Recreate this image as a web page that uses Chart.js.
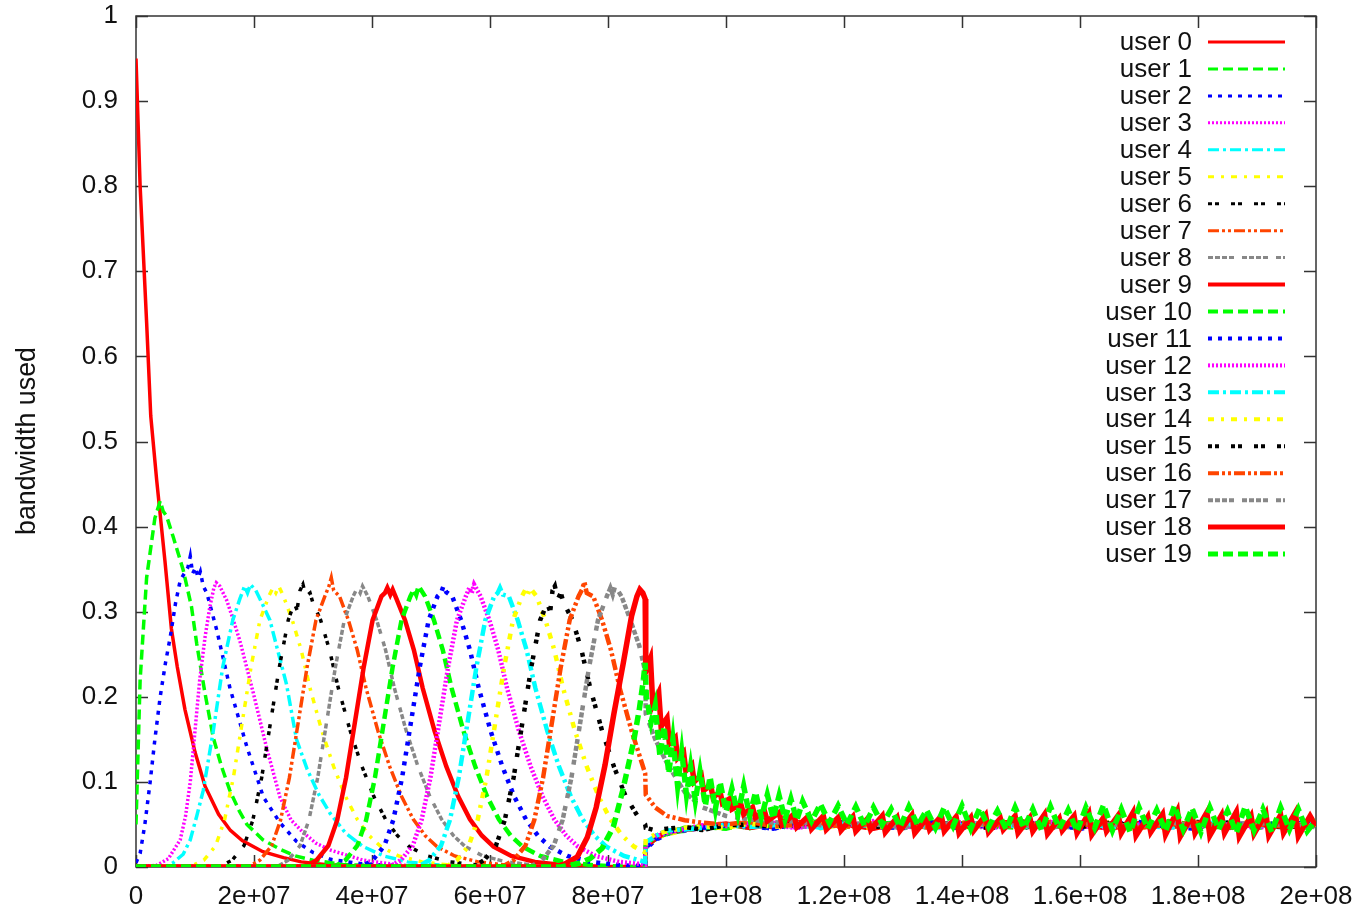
<!DOCTYPE html>
<html>
<head>
<meta charset="utf-8">
<script src="https://cdn.jsdelivr.net/npm/chart.js@4.4.1/dist/chart.umd.min.js"></script>
<style>
  body { margin: 0; background: #fff; }
  #wrap { width: 1366px; height: 906px; }
</style>
</head>
<body>
<div id="wrap"><canvas id="bw" width="1366" height="906"></canvas></div>
<script>
// x values are in millions (1e6), y is fraction of bandwidth
const xTicks = [0, 20, 40, 60, 80, 100, 120, 140, 160, 180, 200];
const yTicks = [0, 0.1, 0.2, 0.3, 0.4, 0.5, 0.6, 0.7, 0.8, 0.9, 1];
const userNames = ['user 0', 'user 1', 'user 2', 'user 3', 'user 4', 'user 5', 'user 6', 'user 7', 'user 8', 'user 9',
  'user 10', 'user 11', 'user 12', 'user 13', 'user 14', 'user 15', 'user 16', 'user 17', 'user 18', 'user 19'];

// first phase: each user's curve up to the switch at ~8.6e7
const user0 = [[0,0.95],[0.7,0.8],[1.8,0.64],[2.5,0.53],[3.5,0.455],[4.9,0.36],[6,0.28],[7,0.235],[8.3,0.185],[10,0.135],[11.7,0.095],[14,0.062],[16,0.043],[18,0.031],[21.5,0.018],[25,0.011],[28,0.006],[32,0.003],[38,0.001],[45,0],[86.3,0]];
const user1 = [[0,0.05],[0.7,0.22],[1.8,0.34],[3.2,0.41],[4.1,0.43],[4.6,0.418],[5.2,0.412],[6.3,0.388],[8,0.349],[9.4,0.306],[10.3,0.262],[11.7,0.204],[13.1,0.152],[14.5,0.118],[15.9,0.09],[17.5,0.066],[18.8,0.05],[21.5,0.032],[24.4,0.021],[27,0.013],[30,0.008],[35,0.003],[42,0.001],[50,0],[86.3,0]];
const user2 = [[0,0.005],[0.7,0.016],[1.5,0.05],[2.4,0.1],[3.2,0.15],[4.1,0.2],[5,0.24],[5.8,0.27],[6.7,0.31],[7.5,0.337],[8.2,0.345],[8.8,0.352],[9.2,0.365],[9.6,0.345],[10.1,0.352],[10.5,0.34],[10.9,0.347],[11.4,0.33],[12,0.322],[13.7,0.278],[15.9,0.211],[18.8,0.141],[21.6,0.082],[24.4,0.052],[27.2,0.03],[30,0.017],[33,0.009],[38,0.004],[45,0.001],[55,0],[86.3,0]];
const user3 = [[0,0],[3.5,0.002],[5.5,0.01],[7.5,0.032],[8.4,0.06],[9.2,0.1],[10,0.16],[10.8,0.22],[11.7,0.27],[12.5,0.305],[13.2,0.328],[13.6,0.334],[14.2,0.33],[15.4,0.313],[16.5,0.29],[17.6,0.266],[19.9,0.204],[22.1,0.141],[24.4,0.082],[26.3,0.055],[28.4,0.04],[30.5,0.028],[32.9,0.02],[38.5,0.008],[45,0.002],[55,0],[86.3,0]];
const user4 = [[0,0],[5,0],[6.3,0.005],[8,0.015],[9.2,0.032],[10.3,0.06],[11.4,0.09],[13.1,0.16],[14.7,0.235],[16.4,0.29],[17.6,0.315],[18.4,0.33],[18.9,0.322],[19.4,0.332],[20.3,0.325],[21.5,0.308],[22.7,0.29],[24,0.255],[25.5,0.215],[27.2,0.15],[29,0.115],[31,0.085],[32.9,0.063],[35.5,0.04],[38.5,0.024],[42,0.013],[46,0.006],[52,0.002],[60,0],[86.3,0]];
const user5 = [[0,0],[9,0],[11.5,0.008],[13.5,0.025],[15,0.055],[16.5,0.105],[18,0.17],[19.5,0.235],[21,0.29],[22.5,0.318],[23.2,0.328],[23.7,0.322],[24.2,0.33],[25,0.318],[26.5,0.29],[28,0.255],[29.5,0.21],[31.5,0.16],[33.5,0.118],[35.5,0.083],[37.5,0.056],[39.5,0.037],[41.5,0.024],[44.5,0.013],[48.5,0.006],[53.5,0.002],[60,0],[86.3,0]];
const user6 = [[0,0],[14,0],[16.3,0.008],[18.3,0.025],[19.8,0.055],[21.3,0.105],[22.8,0.17],[24.3,0.235],[25.8,0.29],[26.8,0.31],[27.3,0.302],[27.8,0.325],[28.3,0.332],[28.8,0.318],[29.5,0.322],[30,0.31],[31.3,0.29],[32.8,0.255],[34.3,0.21],[36.3,0.16],[38.3,0.118],[40.3,0.083],[42.3,0.056],[44.3,0.037],[46.3,0.024],[49.3,0.013],[53.3,0.006],[58.3,0.002],[65,0],[86.3,0]];
const user7 = [[0,0],[19,0],[21,0.008],[23,0.025],[24.5,0.055],[26,0.105],[27.5,0.17],[29,0.235],[30.5,0.29],[32,0.318],[32.7,0.33],[33.1,0.34],[33.5,0.325],[34.5,0.318],[36,0.29],[37.5,0.255],[39,0.21],[41,0.16],[43,0.118],[45,0.083],[47,0.056],[49,0.037],[51,0.024],[54,0.013],[58,0.006],[63,0.002],[70,0],[86.3,0]];
const user8 = [[0,0],[23.8,0],[25.8,0.008],[27.8,0.025],[29.3,0.055],[30.8,0.105],[32.3,0.17],[33.8,0.235],[35.3,0.29],[36.8,0.318],[37.5,0.328],[38,0.322],[38.4,0.33],[39.3,0.318],[40.8,0.29],[42.3,0.255],[43.8,0.21],[45.8,0.16],[47.8,0.118],[49.8,0.083],[51.8,0.056],[53.8,0.037],[55.8,0.024],[58.8,0.013],[62.8,0.006],[67.8,0.002],[75,0],[86.3,0]];
const user9 = [[0,0],[28.6,0],[30.6,0.008],[32.6,0.025],[34.1,0.055],[35.6,0.105],[37.1,0.17],[38.6,0.235],[40.1,0.29],[41.6,0.318],[42.2,0.322],[42.6,0.328],[43.1,0.32],[43.5,0.326],[44.1,0.316],[45.6,0.29],[47.1,0.255],[48.6,0.21],[50.6,0.16],[52.6,0.118],[54.6,0.083],[56.6,0.056],[58.6,0.037],[60.6,0.024],[63.6,0.013],[67.6,0.006],[72.6,0.002],[80,0],[86.3,0]];
const user10 = [[0,0],[33.5,0],[35.5,0.008],[37.5,0.025],[39,0.055],[40.5,0.105],[42,0.17],[43.5,0.235],[45,0.29],[46.5,0.318],[47.1,0.326],[47.5,0.32],[47.9,0.33],[49,0.318],[50.5,0.29],[52,0.255],[53.5,0.21],[55.5,0.16],[57.5,0.118],[59.5,0.083],[61.5,0.056],[63.5,0.037],[65.5,0.024],[68.5,0.013],[72.5,0.006],[77.5,0.002],[84,0],[86.3,0]];
const user11 = [[0,0],[38.1,0],[40.1,0.008],[42.1,0.025],[43.6,0.055],[45.1,0.105],[46.6,0.17],[48.1,0.235],[49.6,0.29],[51.1,0.318],[51.7,0.322],[52.1,0.33],[52.6,0.323],[53.6,0.318],[55.1,0.29],[56.6,0.255],[58.1,0.21],[60.1,0.16],[62.1,0.118],[64.1,0.083],[66.1,0.056],[68.1,0.037],[70.1,0.024],[73.1,0.013],[77.1,0.006],[82.1,0.002],[86.3,0.001]];
const user12 = [[0,0],[42.9,0],[44.9,0.008],[46.9,0.025],[48.4,0.055],[49.9,0.105],[51.4,0.17],[52.9,0.235],[54.4,0.29],[55.9,0.318],[56.5,0.328],[56.9,0.322],[57.3,0.332],[58.4,0.318],[59.9,0.29],[61.4,0.255],[62.9,0.21],[64.9,0.16],[66.9,0.118],[68.9,0.083],[70.9,0.056],[72.9,0.037],[74.9,0.024],[77.9,0.013],[81.9,0.006],[86.3,0.003]];
const user13 = [[0,0],[47.7,0],[49.7,0.008],[51.7,0.025],[53.2,0.055],[54.7,0.105],[56.2,0.17],[57.7,0.235],[59.2,0.29],[60.7,0.318],[61.3,0.322],[61.7,0.328],[62.2,0.32],[63.2,0.318],[64.7,0.29],[66.2,0.255],[67.7,0.21],[69.7,0.16],[71.7,0.118],[73.7,0.083],[75.7,0.056],[77.7,0.037],[79.7,0.024],[82.7,0.013],[86.3,0.006]];
const user14 = [[0,0],[52.4,0],[54.4,0.008],[56.4,0.025],[57.9,0.055],[59.4,0.105],[60.9,0.17],[62.4,0.235],[63.9,0.29],[65.4,0.318],[66,0.326],[66.4,0.32],[66.8,0.328],[67.9,0.318],[69.4,0.29],[70.9,0.255],[72.4,0.21],[74.4,0.16],[76.4,0.118],[78.4,0.083],[80.4,0.056],[82.4,0.037],[84.4,0.024],[86.3,0.017]];
const user15 = [[0,0],[57,0],[59,0.008],[61,0.025],[62.5,0.055],[64,0.105],[65.5,0.17],[67,0.235],[68.5,0.29],[69.7,0.31],[70.2,0.3],[70.6,0.325],[71,0.33],[71.5,0.315],[72,0.322],[72.5,0.31],[74,0.29],[75.5,0.255],[77,0.21],[79,0.16],[81,0.118],[83,0.083],[85,0.06],[86.3,0.05]];
const user16 = [[0,0],[62,0],[64,0.008],[66,0.025],[67.5,0.055],[69,0.105],[70.5,0.17],[72,0.235],[73.5,0.29],[75,0.318],[75.6,0.326],[76,0.335],[76.4,0.322],[77.5,0.318],[79,0.29],[80.5,0.255],[82,0.21],[84,0.16],[86.3,0.11]];
const user17 = [[0,0],[66.8,0],[68.8,0.008],[70.8,0.025],[72.3,0.055],[73.8,0.105],[75.3,0.17],[76.8,0.235],[78.3,0.29],[79.8,0.318],[80.4,0.328],[80.8,0.32],[81.2,0.33],[82.3,0.318],[83.8,0.29],[85.3,0.26],[86.3,0.23]];
const user18 = [[0,0],[71,0],[72.8,0.004],[74.8,0.012],[76.5,0.035],[78,0.07],[79.5,0.12],[81,0.18],[82.6,0.24],[84,0.295],[84.9,0.318],[85.4,0.326],[85.9,0.322],[86.3,0.315]];
const user19 = [[0,0],[72,0],[75,0.004],[77,0.01],[79,0.022],[80.9,0.047],[82.5,0.09],[84.3,0.146],[85.3,0.185],[86,0.22],[86.3,0.24]];

// second phase: shared sample times for users 0-17 and their values
const tailX = [86.4, 88, 90, 93, 96, 100, 104, 108, 112, 116, 120, 125, 130, 135, 140, 145, 150, 155, 160, 165, 170, 175, 180, 185, 190, 195, 200];
const tail0 = [0.022,0.033,0.039,0.043,0.045,0.047,0.052,0.046,0.051,0.048,0.053,0.047,0.05,0.046,0.052,0.049,0.048,0.053,0.046,0.05,0.052,0.047,0.051,0.048,0.05,0.046,0.05];
const tail1 = [0.024,0.032,0.04,0.042,0.047,0.05,0.045,0.052,0.047,0.053,0.046,0.051,0.048,0.054,0.047,0.05,0.052,0.045,0.051,0.048,0.046,0.053,0.047,0.052,0.045,0.051,0.049];
const tail2 = [0.02,0.031,0.038,0.044,0.046,0.048,0.05,0.044,0.053,0.047,0.05,0.045,0.052,0.048,0.045,0.053,0.047,0.05,0.044,0.052,0.048,0.051,0.046,0.05,0.053,0.047,0.05];
const tail3 = [0.023,0.034,0.041,0.043,0.048,0.046,0.051,0.049,0.045,0.052,0.048,0.053,0.046,0.05,0.049,0.045,0.052,0.048,0.053,0.046,0.05,0.048,0.052,0.045,0.049,0.053,0.048];
const tail4 = [0.021,0.035,0.04,0.045,0.044,0.049,0.047,0.053,0.048,0.046,0.051,0.049,0.054,0.047,0.05,0.052,0.046,0.049,0.051,0.047,0.053,0.046,0.05,0.052,0.047,0.05,0.051];
const tail5 = [0.025,0.033,0.038,0.042,0.047,0.045,0.05,0.048,0.052,0.045,0.049,0.051,0.047,0.053,0.046,0.048,0.051,0.047,0.05,0.053,0.045,0.049,0.052,0.047,0.051,0.048,0.05];
const tail6 = [0.03,0.036,0.04,0.044,0.043,0.048,0.046,0.051,0.047,0.05,0.053,0.046,0.049,0.047,0.052,0.05,0.045,0.051,0.049,0.046,0.052,0.05,0.047,0.053,0.048,0.046,0.05];
const tail7 = [0.026,0.034,0.042,0.046,0.045,0.05,0.053,0.047,0.049,0.051,0.046,0.052,0.05,0.045,0.048,0.053,0.049,0.046,0.052,0.048,0.05,0.045,0.053,0.049,0.047,0.052,0.049];
const tail8 = [0.028,0.037,0.043,0.045,0.049,0.047,0.05,0.054,0.046,0.049,0.052,0.048,0.045,0.051,0.053,0.047,0.05,0.048,0.045,0.052,0.049,0.051,0.046,0.05,0.053,0.048,0.05];
const tail9 = [0.024,0.033,0.041,0.044,0.048,0.051,0.046,0.05,0.053,0.047,0.05,0.045,0.052,0.049,0.047,0.051,0.054,0.047,0.05,0.045,0.051,0.048,0.052,0.046,0.05,0.049,0.051];
const tail10 = [0.027,0.035,0.039,0.046,0.047,0.045,0.052,0.048,0.05,0.054,0.047,0.05,0.053,0.046,0.051,0.048,0.046,0.052,0.048,0.051,0.047,0.054,0.049,0.046,0.052,0.05,0.048];
const tail11 = [0.023,0.032,0.042,0.043,0.046,0.049,0.048,0.045,0.051,0.049,0.053,0.047,0.046,0.052,0.05,0.047,0.053,0.049,0.046,0.05,0.053,0.047,0.045,0.051,0.049,0.053,0.05];
const tail12 = [0.026,0.036,0.04,0.045,0.049,0.048,0.05,0.052,0.046,0.05,0.048,0.054,0.047,0.049,0.052,0.046,0.05,0.053,0.048,0.046,0.05,0.052,0.048,0.05,0.046,0.051,0.049];
const tail13 = [0.029,0.036,0.043,0.044,0.046,0.05,0.047,0.049,0.052,0.046,0.051,0.048,0.052,0.045,0.049,0.053,0.047,0.05,0.052,0.047,0.049,0.046,0.051,0.053,0.048,0.05,0.051];
const tail14 = [0.033,0.038,0.042,0.046,0.048,0.046,0.051,0.047,0.05,0.053,0.048,0.046,0.051,0.05,0.045,0.052,0.049,0.047,0.053,0.049,0.046,0.051,0.048,0.05,0.054,0.047,0.05];
const tail15 = [0.046,0.043,0.045,0.047,0.044,0.049,0.05,0.047,0.053,0.048,0.051,0.047,0.05,0.053,0.048,0.046,0.051,0.05,0.047,0.052,0.048,0.05,0.053,0.046,0.049,0.052,0.048];
const tail16 = [0.085,0.07,0.06,0.055,0.052,0.05,0.053,0.048,0.05,0.052,0.047,0.051,0.049,0.046,0.052,0.05,0.047,0.053,0.049,0.051,0.046,0.05,0.052,0.048,0.05,0.047,0.052];
const tail17 = [0.18,0.15,0.122,0.088,0.07,0.06,0.056,0.052,0.054,0.049,0.052,0.05,0.047,0.053,0.048,0.051,0.049,0.046,0.052,0.05,0.048,0.053,0.047,0.05,0.052,0.049,0.047];

// users 18 and 19 are drawn last and show their sawtooth, so they get finer samples
const user18Tail = [[86.4,0.23],[87.2,0.245],[87.6,0.19],[88.6,0.205],[89,0.165],[90,0.175],[90.4,0.145],[91.4,0.152],[91.8,0.128],[92.8,0.135],[93.2,0.113],[94.2,0.12],[94.6,0.1],[95.8,0.108],[96.2,0.09],[97.4,0.096],[97.8,0.082],[99,0.088],[99.4,0.075],[100.6,0.08],[101,0.068],[102.5,0.074],[103,0.062],[104.5,0.07],[105,0.058],[106.5,0.066],[107,0.054],[109,0.064],[109.5,0.05],[111.5,0.062],[112,0.047],[114,0.06],[114.5,0.045],[116.5,0.06],[117,0.044],[119,0.058],[119.5,0.043],[121.5,0.059],[122,0.042],[124,0.057],[124.5,0.044],[126.5,0.06],[127,0.041],[129,0.058],[129.5,0.043],[131.5,0.061],[132,0.04],[134,0.057],[134.5,0.044],[136.5,0.06],[137,0.042],[139,0.059],[139.5,0.04],[141.5,0.058],[142,0.043],[144,0.061],[144.5,0.041],[146.5,0.057],[147,0.044],[149,0.06],[149.5,0.04],[151.5,0.058],[152,0.042],[154,0.062],[154.5,0.039],[156.5,0.057],[157,0.043],[159,0.06],[159.5,0.04],[161.5,0.063],[162,0.038],[164,0.058],[164.5,0.042],[166.5,0.061],[167,0.04],[169,0.064],[169.5,0.037],[171.5,0.059],[172,0.041],[174,0.062],[174.5,0.038],[176.5,0.066],[177,0.036],[179,0.06],[179.5,0.04],[181.5,0.064],[182,0.037],[184,0.061],[184.5,0.04],[186.5,0.065],[187,0.036],[189,0.06],[189.5,0.039],[191.5,0.063],[192,0.037],[194,0.061],[194.5,0.04],[196.5,0.064],[197,0.036],[199,0.06],[200,0.048]];
const user19Tail = [[86.5,0.2],[87.3,0.17],[88,0.19],[88.8,0.13],[89.5,0.165],[90.3,0.11],[91,0.15],[91.8,0.095],[92.5,0.135],[93.3,0.085],[94,0.118],[94.8,0.078],[95.6,0.112],[96.5,0.072],[97.3,0.106],[98.2,0.068],[99,0.1],[100,0.065],[101,0.092],[102,0.062],[103,0.095],[104,0.06],[105,0.088],[106,0.058],[107,0.085],[108,0.057],[109,0.084],[110,0.056],[111,0.08],[112,0.055],[113,0.077],[114.5,0.054],[116,0.074],[117.5,0.052],[119,0.072],[120.5,0.05],[122,0.071],[123.5,0.048],[125,0.07],[126.5,0.05],[128,0.068],[129.5,0.047],[131,0.071],[132.5,0.049],[134,0.067],[135.5,0.046],[137,0.07],[138.5,0.048],[140,0.072],[141.5,0.045],[143,0.069],[144.5,0.047],[146,0.066],[147.5,0.044],[149,0.07],[150.5,0.046],[152,0.068],[153.5,0.043],[155,0.071],[156.5,0.045],[158,0.067],[159.5,0.042],[161,0.07],[162.5,0.046],[164,0.073],[165.5,0.043],[167,0.068],[168.5,0.041],[170,0.07],[171.5,0.045],[173,0.067],[174.5,0.042],[176,0.072],[177.5,0.044],[179,0.069],[180.5,0.041],[182,0.07],[183.5,0.044],[185,0.066],[186.5,0.04],[188,0.071],[189.5,0.043],[191,0.068],[192.5,0.041],[194,0.07],[195.5,0.044],[197,0.068],[198.5,0.042],[200,0.055]];

// gnuplot style cycle
const lineColors = ['#ff0000', '#00ff00', '#0000ff', '#ff00ff', '#00ffff', '#ffff00', '#000000', '#ff4500', '#888888'];
const lineDashes = [[], [10, 5], [4, 6], [2, 2], [11, 4, 3, 4], [6, 7, 3, 7], [4, 3, 4, 12], [11, 3, 3, 3, 3, 3], [5, 2, 5, 2, 5, 2, 5, 8]];

const bells = [user0, user1, user2, user3, user4, user5, user6, user7, user8, user9,
  user10, user11, user12, user13, user14, user15, user16, user17, user18, user19];
const tails = [tail0, tail1, tail2, tail3, tail4, tail5, tail6, tail7, tail8, tail9,
  tail10, tail11, tail12, tail13, tail14, tail15, tail16, tail17];

const FONT = "'Liberation Sans', Arial, sans-serif";

function sciLabel(v) {
    if (v === 0) return '0';
    const exp = Math.floor(Math.log10(v) + 1e-9);
    const m = Number((v / Math.pow(10, exp)).toFixed(1));
    return m + 'e+' + String(exp).padStart(2, '0');
}

const datasets = bells.map(function(bell, i) {
    let pts = bell.slice();
    if (i < 18) {
        pts = pts.concat(tailX.map((x, j) => [x, tails[i][j]]));
    } else {
        pts = pts.concat(i === 18 ? user18Tail : user19Tail);
    }
    return {
        label: userNames[i],
        data: pts.map(p => ({ x: p[0] * 1e6, y: p[1] })),
        borderColor: lineColors[i % 9],
        backgroundColor: lineColors[i % 9],
        borderDash: lineDashes[i % 9],
        borderWidth: i < 9 ? 3.5 : (i < 18 ? 4.5 : 5.5),
        pointRadius: 0,
        tension: 0,
        fill: false,
        order: 19 - i
    };
});

// frame with inward mirrored ticks, like gnuplot
const framePlugin = {
    id: 'frame',
    beforeDatasetsDraw(chart) {
        const ctx = chart.ctx;
        const a = chart.chartArea;
        const xs = chart.scales.x, ys = chart.scales.y;
        ctx.save();
        ctx.strokeStyle = '#333';
        ctx.lineWidth = 1.5;
        ctx.strokeRect(a.left, a.top, a.right - a.left, a.bottom - a.top);
        ctx.beginPath();
        xTicks.forEach(function(t) {
            const px = Math.round(xs.getPixelForValue(t * 1e6)) + 0.5;
            ctx.moveTo(px, a.bottom); ctx.lineTo(px, a.bottom - 12);
            ctx.moveTo(px, a.top); ctx.lineTo(px, a.top + 12);
        });
        yTicks.forEach(function(t) {
            const py = Math.round(ys.getPixelForValue(t)) + 0.5;
            ctx.moveTo(a.left, py); ctx.lineTo(a.left + 12, py);
            ctx.moveTo(a.right, py); ctx.lineTo(a.right - 12, py);
        });
        ctx.stroke();
        ctx.restore();
    },
    afterDraw(chart) {
        const ctx = chart.ctx;
        // y axis title, narrow like the original
        ctx.save();
        ctx.translate(27, 441);
        ctx.rotate(-Math.PI / 2);
        ctx.font = '28px ' + FONT;
        const w = ctx.measureText('bandwidth used').width;
        ctx.scale(188 / w, 1);
        ctx.fillStyle = '#111';
        ctx.textAlign = 'center';
        ctx.textBaseline = 'middle';
        ctx.fillText('bandwidth used', 0, 0);
        ctx.restore();

        // key in the top right corner
        ctx.save();
        ctx.font = '26px ' + FONT;
        ctx.textAlign = 'right';
        ctx.textBaseline = 'middle';
        chart.data.datasets.forEach(function(ds, i) {
            const y = 42 + i * 26.95;
            ctx.fillStyle = '#111';
            ctx.fillText(ds.label, 1192, y + 1);
            ctx.beginPath();
            ctx.setLineDash(ds.borderDash);
            ctx.strokeStyle = ds.borderColor;
            ctx.lineWidth = ds.borderWidth - 0.5;
            ctx.moveTo(1208, y);
            ctx.lineTo(1285, y);
            ctx.stroke();
        });
        ctx.restore();
    }
};

new Chart(document.getElementById('bw').getContext('2d'), {
    type: 'line',
    data: { datasets: datasets },
    options: {
        responsive: false,
        animation: false,
        layout: { padding: { top: 16, right: 50, left: 0, bottom: 0 } },
        plugins: {
            legend: { display: false },
            tooltip: { enabled: false }
        },
        scales: {
            x: {
                type: 'linear',
                min: 0,
                max: 2e8,
                grid: { display: false, drawTicks: false },
                border: { display: false },
                afterFit: function(scale) {
                    scale.height = 39;
                    scale.paddingLeft = 0;
                    scale.paddingRight = 0;
                },
                afterBuildTicks: function(scale) { scale.ticks = xTicks.map(v => ({ value: v * 1e6 })); },
                ticks: {
                    autoSkip: false,
                    maxRotation: 0,
                    padding: 14,
                    color: '#111',
                    font: { family: FONT, size: 26 },
                    callback: function(v) { return sciLabel(v); }
                }
            },
            y: {
                min: 0,
                max: 1,
                grid: { display: false, drawTicks: false },
                border: { display: false },
                afterFit: function(scale) {
                    scale.width = 136;
                    scale.paddingTop = 0;
                    scale.paddingBottom = 0;
                },
                afterBuildTicks: function(scale) { scale.ticks = yTicks.map(v => ({ value: v })); },
                ticks: {
                    padding: 18,
                    color: '#111',
                    font: { family: FONT, size: 26 },
                    callback: function(v) { return String(Number(v.toFixed(1))); }
                }
            }
        }
    },
    plugins: [framePlugin]
});
</script>
</body>
</html>
